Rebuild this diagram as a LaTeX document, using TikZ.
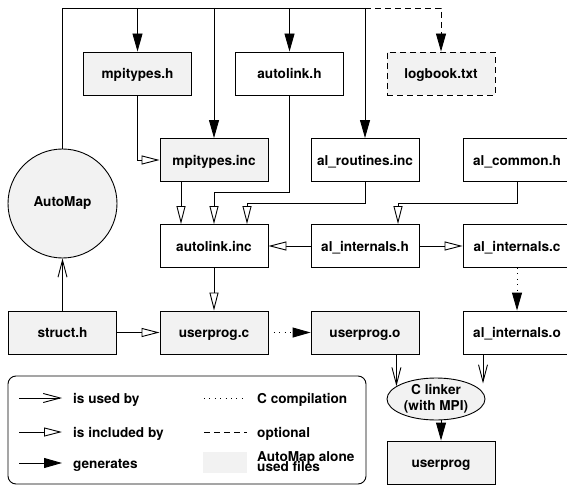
\documentclass[tikz,border=0pt]{standalone}
\usepackage{fontspec}
\setmainfont{TeX Gyre Heros}
\usetikzlibrary{arrows.meta,shapes.geometric,calc}
\definecolor{lgray}{RGB}{242,242,242}
\begin{document}
\begin{tikzpicture}[x=1bp,y=-1bp,
  every node/.style={font=\fontsize{13.6bp}{16bp}\selectfont\bfseries},
  ln/.style={line width=0.9bp},
  box/.style={draw, ln, minimum width=108bp, minimum height=43bp, inner sep=0pt, text height=10.5bp, text depth=0pt},
  gbox/.style={box, fill=lgray},
  used/.style={ln, -{Straight Barb[length=17bp,width=9bp]}},
  inc/.style={ln, -{Triangle[open,length=18bp,width=9bp,fill=white]}},
  gen/.style={ln, -{Triangle[length=18bp,width=10bp]}},
  dots/.style={dash pattern=on 0.9bp off 4.5bp},
  dsh/.style={dash pattern=on 6bp off 4bp},
]
\useasboundingbox (0,0) rectangle (567,485);

% nodes
\node[gbox] (mh) at (137.5,73.5) {mpitypes.h};
\node[box] (alh) at (289.5,73.5) {autolink.h};
\node[gbox, dsh] (lb) at (441,73.5) {logbook.txt};
\node[gbox] (mi) at (214,160) {mpitypes.inc};
\node[box] (ar) at (365,160) {al\_routines.inc};
\node[box] (ac) at (517,160) {al\_common.h};
\node[draw, ln, circle, fill=lgray, minimum size=109bp, inner sep=0pt] (am) at (62.5,203.5) {AutoMap};
\node[box] (ai) at (214,246) {autolink.inc};
\node[box] (ah) at (365,246) {al\_internals.h};
\node[box] (acc) at (517,246) {al\_internals.c};
\node[gbox] (sh) at (62.5,332.5) {struct.h};
\node[gbox] (uc) at (214,332.5) {userprog.c};
\node[gbox] (uo) at (365,332.5) {userprog.o};
\node[box] (ao) at (517,332.5) {al\_internals.o};
\node[draw, ln, ellipse, fill=lgray, minimum width=98bp, minimum height=42bp, inner sep=0pt, align=center] (lk) at (436,399) {C linker\\(with MPI)};
\node[gbox] (up) at (441,462.5) {userprog};

% top distribution line
\coordinate (topy) at (0,8);
\draw[ln] (am.north) -- (am.north |- topy) -- (ar.north |- topy);
\draw[gen] (mh.north |- topy) -- (mh.north);
\draw[gen] (mi.north |- topy) -- (mi.north);
\draw[gen] (alh.north |- topy) -- (alh.north);
\draw[gen] (ar.north |- topy) -- (ar.north);
\draw[gen, dsh] (ar.north |- topy) -| (lb.north);

% includes
\draw[inc] (mh.south) |- (mi.west);
\draw[inc] ($(mi.south)+(-33,0)$) -- ($(ai.north)+(-33,0)$);
\draw[inc] (alh.south) -- ++(0,97) -| (ai.north);
\draw[inc] (ar.south) -- ++(0,21) -| ($(ai.north)+(33,0)$);
\draw[inc] (ac.south) -- ++(0,21) -| ($(ah.north)+(33,0)$);
\draw[inc] (ah.west) -- (ai.east);
\draw[inc] (ah.east) -- (acc.west);
\draw[inc] (ai.south) -- (uc.north);
\draw[inc] (sh.east) -- (uc.west);

% generates / used
\draw[gen, dots] (acc.south) -- (ao.north);
\draw[gen, dots] (uc.east) -- (uo.west);
\draw[used] (sh.north) -- (am.south);
\draw[used] (lk.162 |- uo.south) -- (lk.162);
\coordinate (aoend) at ($(ao.south)+(-34,29)$);
\draw[used] (ao.south -| aoend) -- (aoend);
\draw[gen] (lk.south -| up.north) -- (up.north);

% legend
\node[draw, ln, rounded corners=8bp, minimum width=358bp, minimum height=108bp, inner sep=0pt] (lg) at (187,430) {};
\coordinate (l1a) at (19,398); \coordinate (l1b) at (62,398);
\coordinate (l2a) at (19,432); \coordinate (l2b) at (62,432);
\coordinate (l3a) at (19,463); \coordinate (l3b) at (62,463);
\draw[used] (l1a) -- (l1b);
\draw[inc] (l2a) -- (l2b);
\draw[gen] (l3a) -- (l3b);
\node[anchor=base west, inner sep=0pt] (t1) at (73,403) {is used by};
\node[anchor=base west, inner sep=0pt] (t2) at (73,437) {is included by};
\node[anchor=base west, inner sep=0pt] (t3) at (73,468) {generates};
\coordinate (r1a) at (204,398); \coordinate (r1b) at (247,398);
\coordinate (r2a) at (204,432); \coordinate (r2b) at (247,432);
\draw[ln, dots] (r1a) -- (r1b);
\draw[ln, dsh] (r2a) -- (r2b);
\node[fill=lgray, minimum width=44bp, minimum height=21bp, inner sep=0pt] (r3) at (225,462.5) {};
\node[anchor=base west, inner sep=0pt] (t4) at (257,403) {C compilation};
\node[anchor=base west, inner sep=0pt] (t5) at (257,437) {optional};
\node[anchor=base west, inner sep=0pt] (t6) at (257,461) {AutoMap alone};
\node[anchor=base west, inner sep=0pt] (t7) at (257,471) {used files};
\end{tikzpicture}
\end{document}
